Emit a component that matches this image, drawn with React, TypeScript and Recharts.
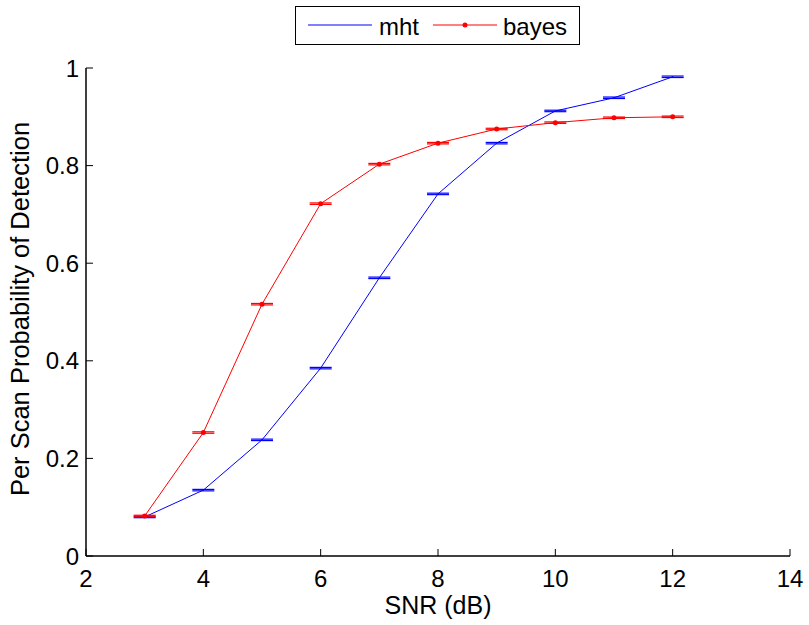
import { LineChart, Line, XAxis, YAxis, ErrorBar, Legend } from "recharts";

const snr = [3, 4, 5, 6, 7, 8, 9, 10, 11, 12];
const mht = [0.08, 0.135, 0.238, 0.385, 0.57, 0.742, 0.846, 0.912, 0.939, 0.982];
const bayes = [0.082, 0.253, 0.516, 0.722, 0.803, 0.846, 0.875, 0.888, 0.898, 0.9];
const mhtErr = [0.0015, 0.0015, 0.0015, 0.0015, 0.0015, 0.0015, 0.0015, 0.0015, 0.0015, 0.0015];
const bayesErr = [0.0015, 0.0015, 0.0015, 0.0015, 0.0015, 0.0015, 0.0015, 0.0015, 0.0015, 0.0015];
const xTicks = [2, 4, 6, 8, 10, 12, 14];
const yTicks = [0, 0.2, 0.4, 0.6, 0.8, 1];

const FONT = "'Liberation Sans', Arial, Helvetica, sans-serif";
const TL = 7;

const data = snr.map((s, i) => ({ snr: s, mht: mht[i], bayes: bayes[i], mhtErr: mhtErr[i], bayesErr: bayesErr[i] }));

function BottomTick({ x, y, payload }: any) {
  const ay = y - 14;
  return (
    <g>
      <line x1={x} y1={ay} x2={x} y2={ay - TL} stroke="#000" strokeWidth={1} />
      <text x={x} y={y} dy="0.71em" textAnchor="middle" fontSize={24} fontFamily={FONT} fill="#000">{String(payload.value)}</text>
    </g>
  );
}

function TopTick({ x, y }: any) {
  return <line x1={x} y1={y} x2={x} y2={y + TL} stroke="#000" strokeWidth={1} />;
}

function LeftTick({ x, y, payload }: any) {
  const ax = x + 7;
  return (
    <g>
      <line x1={ax} y1={y} x2={ax + TL} y2={y} stroke="#000" strokeWidth={1} />
      <text x={x} y={y} dy="0.355em" textAnchor="end" fontSize={24} fontFamily={FONT} fill="#000">{String(payload.value)}</text>
    </g>
  );
}

function RightTick({ x, y }: any) {
  return <line x1={x} y1={y} x2={x - TL} y2={y} stroke="#000" strokeWidth={1} />;
}

function LegendBox() {
  return (
    <div style={{ width: 285, height: 39, boxSizing: "border-box", border: "1.5px solid #000", background: "#fff" }}>
      <svg width={282} height={36} style={{ display: "block" }}>
        <line x1={12} y1={18} x2={76} y2={18} stroke="#0000ff" strokeWidth={1} />
        <text x={83} y={28} fontSize={24} fontFamily={FONT} fill="#000">mht</text>
        <line x1={137} y1={18} x2={201} y2={18} stroke="#ff0000" strokeWidth={1} />
        <circle cx={169} cy={18} r={2.5} fill="#ff0000" />
        <text x={207} y={28} fontSize={24} fontFamily={FONT} fill="#000">bayes</text>
      </svg>
    </div>
  );
}

export default function App() {
  return (
    <div style={{ position: "absolute", left: 0, top: 0, width: 809, height: 625, background: "#fff" }}>
      <LineChart width={809} height={625} data={data} margin={{ top: 68, right: 19, bottom: 0, left: 0 }}>
        <XAxis
          dataKey="snr"
          type="number"
          domain={[2, 14]}
          ticks={xTicks}
          height={69}
          tickSize={0}
          tickMargin={14}
          tickLine={false}
          axisLine={{ stroke: "#000", strokeWidth: 1.5 }}
          tick={<BottomTick />}
          interval={0}
          label={{
            content: ({ viewBox }: any) => (
              <text x={viewBox.x + viewBox.width / 2} y={614} textAnchor="middle" fontSize={25} fontFamily={FONT} fill="#000">SNR (dB)</text>
            ),
          }}
        />
        <XAxis
          xAxisId="top"
          orientation="top"
          dataKey="snr"
          type="number"
          domain={[2, 14]}
          ticks={xTicks}
          height={0}
          tickSize={0}
          tickLine={false}
          axisLine={{ stroke: "#000", strokeWidth: 1.5 }}
          tick={<TopTick />}
          interval={0}
        />
        <YAxis
          type="number"
          domain={[0, 1]}
          ticks={yTicks}
          width={86}
          tickSize={0}
          tickMargin={7}
          tickLine={false}
          axisLine={{ stroke: "#000", strokeWidth: 1.5 }}
          tick={<LeftTick />}
          interval={0}
          label={{
            content: ({ viewBox }: any) => {
              const cx = 20;
              const cy = viewBox.y + viewBox.height / 2 - 3;
              return (
                <text x={cx} y={cy} transform={`rotate(-90 ${cx} ${cy})`} textAnchor="middle" dy="0.355em" fontSize={25.5} fontFamily={FONT} fill="#000">
                  Per Scan Probability of Detection
                </text>
              );
            },
          }}
        />
        <YAxis
          yAxisId="right"
          orientation="right"
          type="number"
          domain={[0, 1]}
          ticks={yTicks}
          width={0}
          tickSize={0}
          tickLine={false}
          axisLine={{ stroke: "#000", strokeWidth: 1.5 }}
          tick={<RightTick />}
          interval={0}
        />
        <Legend
          layout="horizontal"
          verticalAlign="middle"
          align="center"
          content={() => <LegendBox />}
          wrapperStyle={{ position: "absolute", left: 295, top: 6, width: 285, height: 39 }}
        />
        <Line dataKey="mht" stroke="#0000ff" strokeWidth={1} dot={false} activeDot={false} isAnimationActive={false}>
          <ErrorBar dataKey="mhtErr" direction="y" width={11} stroke="#0000ff" strokeWidth={1.2} isAnimationActive={false} />
        </Line>
        <Line dataKey="bayes" stroke="#ff0000" strokeWidth={1} dot={{ r: 2.5, fill: "#ff0000", stroke: "#ff0000", strokeWidth: 0 }} activeDot={false} isAnimationActive={false}>
          <ErrorBar dataKey="bayesErr" direction="y" width={11} stroke="#ff0000" strokeWidth={1.2} isAnimationActive={false} />
        </Line>
      </LineChart>
    </div>
  );
}
